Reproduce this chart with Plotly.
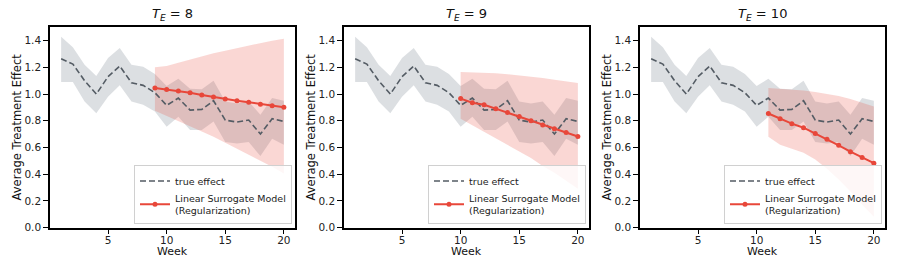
import plotly.graph_objects as go

W, H = 897, 276
HR = 267  # effective rendered height used to map reference pixel rows to paper fractions

weeks = list(range(1, 21))
true_effect = [1.265, 1.225, 1.10, 1.00, 1.13, 1.21, 1.085, 1.065, 1.01, 0.915,
               0.97, 0.88, 0.885, 0.95, 0.805, 0.79, 0.805, 0.70, 0.815, 0.795]
true_lower = [1.09, 1.09, 0.945, 0.857, 0.98, 1.065, 0.945, 0.92, 0.87, 0.755,
              0.83, 0.73, 0.73, 0.795, 0.64, 0.63, 0.64, 0.535, 0.665, 0.62]
true_upper = [1.43, 1.35, 1.22, 1.135, 1.27, 1.345, 1.22, 1.205, 1.15, 1.06,
              1.115, 1.04, 1.035, 1.10, 0.945, 0.93, 0.945, 0.845, 0.97, 0.95]

te_values = [8, 9, 10]

pred_weeks_8 = list(range(9, 21))
pred_8 = [1.045, 1.034, 1.022, 1.009, 0.993, 0.977, 0.962, 0.949, 0.938, 0.924, 0.913, 0.901]
pred_upper_8 = [1.20, 1.21, 1.235, 1.26, 1.285, 1.305, 1.325, 1.345, 1.365, 1.38, 1.40, 1.415]
pred_lower_8 = [0.875, 0.84, 0.80, 0.76, 0.72, 0.68, 0.635, 0.595, 0.55, 0.50, 0.455, 0.405]

pred_weeks_9 = list(range(10, 21))
pred_9 = [0.966, 0.935, 0.92, 0.89, 0.862, 0.831, 0.80, 0.768, 0.74, 0.712, 0.682]
pred_upper_9 = [1.165, 1.163, 1.16, 1.155, 1.148, 1.14, 1.13, 1.12, 1.108, 1.095, 1.082]
pred_lower_9 = [0.815, 0.77, 0.72, 0.67, 0.62, 0.57, 0.52, 0.46, 0.41, 0.35, 0.29]

pred_weeks_10 = list(range(11, 21))
pred_10 = [0.854, 0.814, 0.778, 0.748, 0.705, 0.662, 0.616, 0.568, 0.525, 0.482]
pred_upper_10 = [1.045, 1.04, 1.035, 1.027, 1.015, 1.0, 0.985, 0.962, 0.935, 0.907]
pred_lower_10 = [0.68, 0.62, 0.59, 0.56, 0.51, 0.44, 0.36, 0.27, 0.17, 0.08]

x_ticks = [5, 10, 15, 20]
y_ticks = [0.0, 0.2, 0.4, 0.6, 0.8, 1.0, 1.2, 1.4]

preds = [
    (pred_weeks_8, pred_8, pred_upper_8, pred_lower_8),
    (pred_weeks_9, pred_9, pred_upper_9, pred_lower_9),
    (pred_weeks_10, pred_10, pred_upper_10, pred_lower_10),
]

FONT = "DejaVu Sans"
GREY_LINE = "#545c64"
GREY_FILL = "rgba(140,150,160,0.30)"
RED = "#e8473a"
RED_FILL = "rgba(232,71,58,0.22)"

panels_px = [(50, 295), (344, 589), (640, 885)]
top_px, bottom_px = 27, 225


def fy(px):
    return 1 - px / HR


fig = go.Figure()
annotations = []

for i, (te, (pw, pv, pu, pl)) in enumerate(zip(te_values, preds)):
    s = "" if i == 0 else str(i + 1)
    xa, ya = "x" + s, "y" + s
    leg = "legend" + s

    fig.add_trace(go.Scatter(
        x=weeks + weeks[::-1], y=true_upper + true_lower[::-1],
        fill="toself", fillcolor=GREY_FILL, line=dict(width=0),
        mode="lines", hoverinfo="skip", showlegend=False,
        xaxis=xa, yaxis=ya))
    fig.add_trace(go.Scatter(
        x=pw + pw[::-1], y=pu + pl[::-1],
        fill="toself", fillcolor=RED_FILL, line=dict(width=0),
        mode="lines", hoverinfo="skip", showlegend=False,
        xaxis=xa, yaxis=ya))
    fig.add_trace(go.Scatter(
        x=weeks, y=true_effect, mode="lines", name="true effect",
        line=dict(color=GREY_LINE, width=1.6, dash="6px,3px"),
        xaxis=xa, yaxis=ya, legend=leg))
    fig.add_trace(go.Scatter(
        x=pw, y=pv, mode="lines+markers",
        name="Linear Surrogate Model<br>(Regularization)",
        line=dict(color=RED, width=2),
        marker=dict(color=RED, size=5),
        xaxis=xa, yaxis=ya, legend=leg))

    l, r = panels_px[i]
    xd = [l / W, r / W]
    yd = [fy(bottom_px), fy(top_px)]
    axis_common = dict(
        showline=True, linecolor="black", linewidth=1.5, mirror=True,
        ticks="outside", ticklen=5, tickwidth=1.3, tickcolor="black",
        showgrid=False, zeroline=False,
        tickfont=dict(family=FONT, size=10.5, color="#222"),
    )
    fig.update_layout(**{
        "xaxis" + s: dict(domain=xd, range=[0.05, 20.95], tickvals=x_ticks,
                          anchor=ya, ticklabelstandoff=-3, **axis_common),
        "yaxis" + s: dict(domain=yd, range=[0, 1.5], tickvals=y_ticks,
                          tickformat=".1f", anchor=xa, **axis_common),
        leg: dict(x=(r - 3) / W, xanchor="right", y=fy(bottom_px - 3),
                  yanchor="bottom", bgcolor="rgba(255,255,255,0.8)",
                  bordercolor="#d0d0d0", borderwidth=1,
                  font=dict(family=FONT, size=9.5, color="#222"),
                  tracegroupgap=0, itemwidth=30),
    })

    cx = (l + r) / 2 / W
    annotations.append(dict(
        text=f"<i>T</i><sub><i>E</i></sub> = {te}", x=cx, y=fy(14),
        xref="paper", yref="paper", showarrow=False, xanchor="center",
        yanchor="middle", font=dict(family=FONT, size=13, color="#111")))
    annotations.append(dict(
        text="Week", x=cx, y=fy(249), xref="paper", yref="paper",
        showarrow=False, xanchor="center", yanchor="middle",
        font=dict(family=FONT, size=11, color="#111")))
    annotations.append(dict(
        text="Average Treatment Effect", x=(l - 33) / W, y=fy(126),
        xref="paper", yref="paper", showarrow=False, xanchor="center",
        yanchor="middle", textangle=-90,
        font=dict(family=FONT, size=11.5, color="#111")))

fig.update_layout(
    width=W, height=H, margin=dict(l=0, r=0, t=0, b=0),
    paper_bgcolor="white", plot_bgcolor="white",
    annotations=annotations, font=dict(family=FONT),
)

fig.write_html(
    "out.html",
    config={"displayModeBar": False, "responsive": False},
    post_script="document.body.style.margin='0px';document.body.style.overflow='hidden';",
)
